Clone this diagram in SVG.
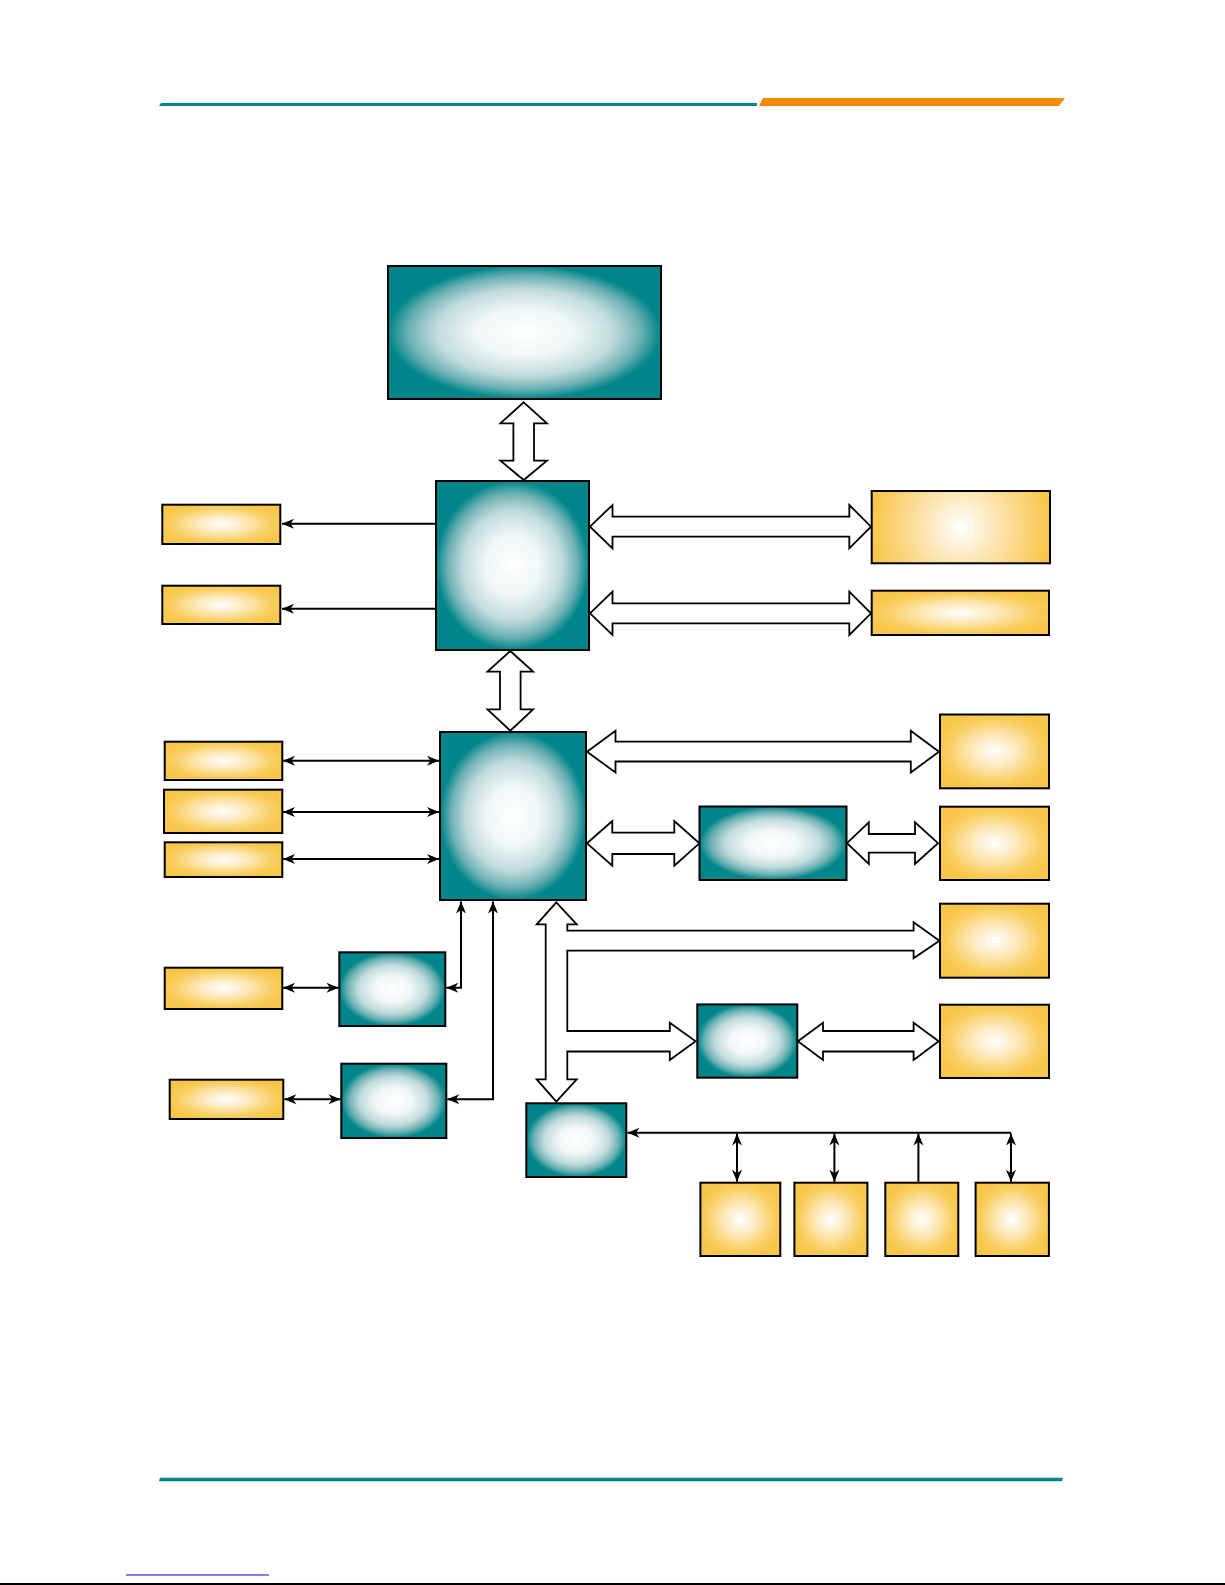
<svg xmlns="http://www.w3.org/2000/svg" width="1225" height="1585" viewBox="0 0 1225 1585">
<defs>
<radialGradient id="gTeal" cx="0.5" cy="0.5" r="0.5">
<stop offset="0" stop-color="#ffffff"/>
<stop offset="0.35" stop-color="#f2f7f7"/>
<stop offset="0.65" stop-color="#c0dbdc"/>
<stop offset="0.85" stop-color="#6cb1b3"/>
<stop offset="1" stop-color="#00868a"/>
</radialGradient>
<radialGradient id="gYel" cx="0.5" cy="0.5" r="0.55">
<stop offset="0" stop-color="#ffffff"/>
<stop offset="0.35" stop-color="#fdebc0"/>
<stop offset="0.8" stop-color="#f9cd5c"/>
<stop offset="1" stop-color="#f8c64a"/>
</radialGradient>
<radialGradient id="gYelV" cx="0.5" cy="0.5" r="0.5" gradientTransform="translate(0.5 0.5) scale(1 2.5) translate(-0.5 -0.5)">
<stop offset="0" stop-color="#ffffff"/>
<stop offset="0.4" stop-color="#fde6b4"/>
<stop offset="1" stop-color="#f8c64a"/>
</radialGradient>
<marker id="ah" markerUnits="userSpaceOnUse" viewBox="-13 -6 14 12" refX="0" refY="0" markerWidth="14" markerHeight="12" orient="auto-start-reverse" overflow="visible">
<path d="M0,0 L-12,-5 L-8.5,0 L-12,5 Z" fill="#000"/>
</marker>
</defs>
<style>
.teal{fill:url(#gTeal);stroke:#000;stroke-width:2}
.yel{fill:url(#gYel);stroke:#000;stroke-width:2}
.yelv{fill:url(#gYelV);stroke:#000;stroke-width:2}
.blk{fill:#fff;stroke:#000;stroke-width:1.8;stroke-linejoin:miter}
.ln{fill:none;stroke:#000;stroke-width:2}
.one{marker-end:url(#ah)}
.two{marker-start:url(#ah);marker-end:url(#ah)}
</style>
<rect width="1225" height="1585" fill="#fff"/>
<g id="header">
<polygon points="161,103 757,103 757,106 159,106" fill="#00868a"/>
<polygon points="763,98 1065,98 1059,106 759,106" fill="#f28c00"/>
</g>
<g id="footer">
<polygon points="160,1477.7 1063,1477.7 1062,1481.3 159,1481.3" fill="#00868a"/>
<line x1="126" y1="1575" x2="269" y2="1575" stroke="#0000ff" stroke-width="1"/>
<rect x="0" y="1583" width="1225" height="2" fill="#000"/>
</g>
<g id="connectors">
<path class="blk" d="M523.7,402.3 L547,423.3 L534,423.3 L534,460.7 L547,460.7 L523.7,480 L500.4,460.7 L513.4,460.7 L513.4,423.3 L500.4,423.3 Z"/>
<path class="blk" d="M510.3,651 L533.1,671.7 L520.6,671.7 L520.6,709.3 L533.1,709.3 L510.3,730.7 L487.5,709.3 L500,709.3 L500,671.7 L487.5,671.7 Z"/>
<path class="blk" d="M590,526.7 L612.5,505 L612.5,516.7 L849.3,516.7 L849.3,505 L871,526.7 L849.3,548.3 L849.3,536.7 L612.5,536.7 L612.5,548.3 Z"/>
<path class="blk" d="M590,613.3 L612.5,591.7 L612.5,603.3 L849.3,603.3 L849.3,591.7 L871,613.3 L849.3,635 L849.3,623.3 L612.5,623.3 L612.5,635 Z"/>
<path class="blk" d="M587,751.7 L615.5,730.7 L615.5,741.7 L910.8,741.7 L910.8,730.7 L939,751.7 L910.8,772.5 L910.8,761.5 L615.5,761.5 L615.5,772.5 Z"/>
<path class="blk" d="M587,843.3 L612.3,821 L612.3,832.7 L674.3,832.7 L674.3,821 L699.4,843.3 L674.3,865.7 L674.3,854 L612.3,854 L612.3,865.7 Z"/>
<path class="blk" d="M847,843.2 L868.8,822.3 L868.8,834 L915,834 L915,822.3 L938,843.2 L915,864 L915,852.7 L868.8,852.7 L868.8,864 Z"/>
<path class="blk" d="M797.9,1041.3 L823,1022.7 L823,1031 L913.6,1031 L913.6,1022.7 L938.7,1041.3 L913.6,1060 L913.6,1051.5 L823,1051.5 L823,1060 Z"/>
<path class="blk" d="M556.3,902.3 L576.7,924.3 L567.3,924.3 L567.3,930.7 L913.6,930.7 L913.6,922.3 L939.4,940.7 L913.6,958.3 L913.6,950.7 L567.3,950.7 L567.3,1031 L669.8,1031 L669.8,1022.7 L695.6,1041.3 L669.8,1060 L669.8,1051.5 L567.3,1051.5 L567.3,1079.3 L576.7,1079.3 L556.3,1101.7 L536.7,1079.3 L545.7,1079.3 L545.7,924.3 L536.7,924.3 Z"/>
<line class="ln one" x1="436" y1="523.7" x2="282" y2="523.7"/>
<line class="ln one" x1="436" y1="608.7" x2="282" y2="608.7"/>
<line class="ln two" x1="283" y1="760.7" x2="439" y2="760.7"/>
<line class="ln two" x1="283" y1="812" x2="439" y2="812"/>
<line class="ln two" x1="283" y1="859" x2="439" y2="859"/>
<line class="ln two" x1="283" y1="987.7" x2="338.5" y2="987.7"/>
<path class="ln two" d="M446.3,987.7 H461 V901.5"/>
<line class="ln two" x1="284.3" y1="1099.3" x2="340.5" y2="1099.3"/>
<path class="ln two" d="M447.3,1099.3 H493 V901.5"/>
<path class="ln one" d="M1011,1132.7 H627.5"/>
<line class="ln two" x1="737" y1="1133.5" x2="737" y2="1181.8"/>
<line class="ln two" x1="834.4" y1="1133.5" x2="834.4" y2="1181.8"/>
<line class="ln one" x1="918.4" y1="1181.8" x2="918.4" y2="1133.5"/>
<line class="ln two" x1="1011" y1="1133.5" x2="1011" y2="1181.8"/>
</g>
<g id="cpu"><rect class="teal" x="388" y="266" width="273" height="133"/></g>
<g id="northbridge"><rect class="teal" x="436" y="481" width="153" height="169"/></g>
<g id="southbridge"><rect class="teal" x="440" y="732" width="146" height="168"/></g>
<g id="mid1"><rect class="teal" x="699.5" y="806.5" width="147" height="73.5"/></g>
<g id="mid2"><rect class="teal" x="697.3" y="1004.4" width="100" height="73.3"/></g>
<g id="chip1"><rect class="teal" x="339.3" y="952.3" width="106" height="73.7"/></g>
<g id="chip2"><rect class="teal" x="341.3" y="1063.7" width="105" height="74.3"/></g>
<g id="superio"><rect class="teal" x="526.3" y="1103.3" width="100" height="73.7"/></g>
<g id="left1"><rect class="yel" x="162.3" y="504.7" width="118" height="39.3"/></g>
<g id="left2"><rect class="yel" x="162.3" y="585.7" width="118" height="38.3"/></g>
<g id="left3"><rect class="yel" x="164.7" y="741.7" width="117.6" height="38.3"/></g>
<g id="left4"><rect class="yel" x="164" y="789.7" width="118.3" height="43.3"/></g>
<g id="left5"><rect class="yel" x="164.7" y="842.3" width="117.6" height="34.7"/></g>
<g id="left6"><rect class="yel" x="164.7" y="967.7" width="117.6" height="41.3"/></g>
<g id="left7"><rect class="yel" x="169.7" y="1079.7" width="113.6" height="39.3"/></g>
<g id="rtop1"><rect class="yelv" x="871.7" y="491" width="178.3" height="72.3"/></g>
<g id="rtop2"><rect class="yel" x="871.7" y="590.7" width="177.3" height="44.3"/></g>
<g id="r3"><rect class="yel" x="940" y="714.5" width="109" height="73.8"/></g>
<g id="r4"><rect class="yel" x="940" y="806.7" width="109" height="73.3"/></g>
<g id="r5"><rect class="yel" x="940" y="903.7" width="109" height="74"/></g>
<g id="r6"><rect class="yel" x="940" y="1004.7" width="109" height="73.3"/></g>
<g id="b1"><rect class="yel" x="700.4" y="1182.7" width="79.9" height="73.3"/></g>
<g id="b2"><rect class="yel" x="794.4" y="1182.7" width="73" height="73.3"/></g>
<g id="b3"><rect class="yel" x="885.3" y="1182.7" width="73" height="73.3"/></g>
<g id="b4"><rect class="yel" x="975.6" y="1182.7" width="73.3" height="73.3"/></g>
</svg>
